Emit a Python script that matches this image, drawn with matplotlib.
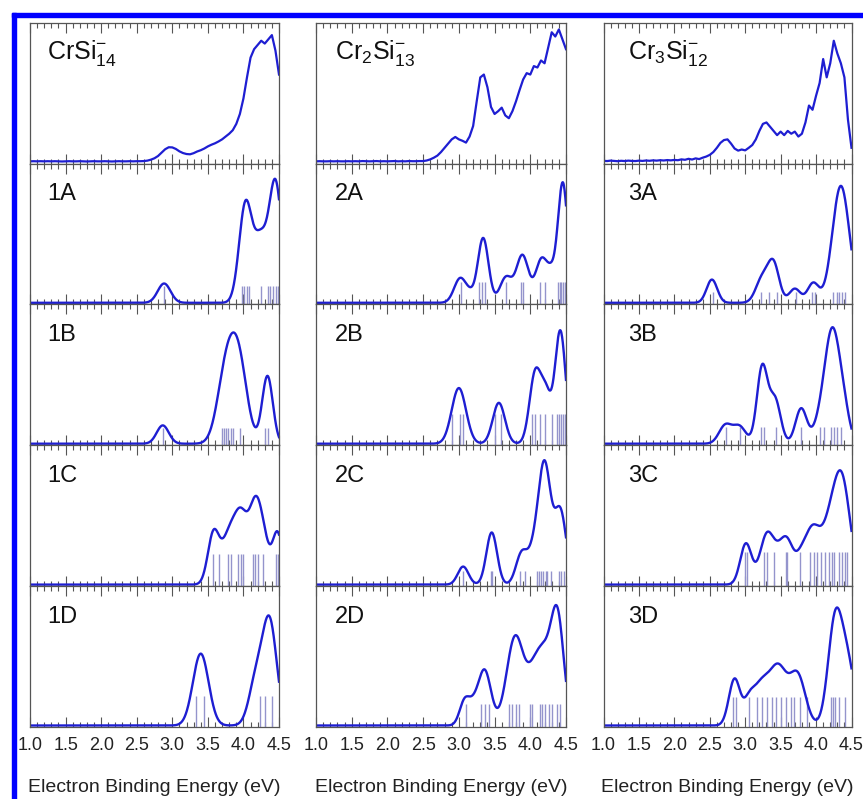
import numpy as np
import matplotlib
matplotlib.use("Agg")
import matplotlib.pyplot as plt
from matplotlib.patches import Rectangle
from matplotlib.ticker import MultipleLocator, FormatStrFormatter

plt.rcParams['font.family'] = ['Liberation Sans', 'DejaVu Sans']
plt.rcParams['mathtext.default'] = 'regular'

# ===== experimental spectra (top row), sampled every 0.05 eV from 1.0 to 4.5 =====
energy_exp = np.linspace(1.0, 4.5, 71)

exp_CrSi14 = [
    0.004, 0.005, 0.004, 0.005, 0.004, 0.005, 0.004, 0.005, 0.004, 0.003,
    0.004, 0.005, 0.004, 0.004, 0.005, 0.004, 0.003, 0.004, 0.005, 0.004,
    0.004, 0.005, 0.004, 0.003, 0.004, 0.005, 0.004, 0.004, 0.005, 0.004,
    0.005, 0.005, 0.006, 0.009, 0.016, 0.026, 0.042, 0.066, 0.090, 0.104,
    0.103, 0.092, 0.075, 0.063, 0.056, 0.054, 0.062, 0.074, 0.083, 0.095,
    0.110, 0.122, 0.132, 0.145, 0.160, 0.180, 0.200, 0.225, 0.270, 0.340,
    0.450, 0.600, 0.740, 0.800, 0.830, 0.860, 0.840, 0.870, 0.900, 0.790,
    0.620]

exp_Cr2Si13 = [
    0.004, 0.005, 0.004, 0.004, 0.005, 0.004, 0.005, 0.004, 0.004, 0.005,
    0.004, 0.005, 0.004, 0.006, 0.005, 0.004, 0.005, 0.006, 0.004, 0.005,
    0.004, 0.005, 0.006, 0.004, 0.005, 0.004, 0.006, 0.005, 0.005, 0.006,
    0.006, 0.010, 0.018, 0.030, 0.045, 0.070, 0.100, 0.130, 0.160, 0.177,
    0.160, 0.150, 0.137, 0.180, 0.255, 0.430, 0.600, 0.620, 0.530, 0.390,
    0.340, 0.360, 0.385, 0.330, 0.310, 0.360, 0.430, 0.510, 0.585, 0.630,
    0.620, 0.680, 0.670, 0.720, 0.700, 0.810, 0.920, 0.890, 0.940, 0.870,
    0.800]

exp_Cr3Si12 = [
    0.008, 0.006, 0.009, 0.007, 0.005, 0.008, 0.006, 0.009, 0.007, 0.006,
    0.009, 0.007, 0.010, 0.008, 0.011, 0.009, 0.012, 0.010, 0.013, 0.011,
    0.014, 0.012, 0.018, 0.015, 0.022, 0.017, 0.025, 0.020, 0.030, 0.038,
    0.050, 0.070, 0.100, 0.135, 0.155, 0.160, 0.130, 0.095, 0.080, 0.088,
    0.082, 0.100, 0.120, 0.160, 0.220, 0.270, 0.280, 0.250, 0.220, 0.190,
    0.215, 0.190, 0.220, 0.200, 0.215, 0.180, 0.200, 0.280, 0.400, 0.370,
    0.470, 0.560, 0.730, 0.600, 0.700, 0.860, 0.770, 0.700, 0.600, 0.300,
    0.100]

exp_labels = [r'$CrSi^{-}_{14}$', r'$Cr_2Si^{-}_{13}$', r'$Cr_3Si^{-}_{12}$']

# ===== simulated spectra: broadened peaks (center eV, height, width eV) + stick positions =====
peaks_1A = [(2.885, 0.137, 0.09), (4.03, 0.70, 0.09), (4.24, 0.42, 0.09), (4.45, 0.85, 0.09)]
sticks_1A = [2.88, 3.98, 4.01, 4.05, 4.08, 4.24, 4.35, 4.38, 4.42, 4.46, 4.49]

peaks_1B = [(2.866, 0.13, 0.085), (3.75, 0.47, 0.12), (3.93, 0.57, 0.12), (4.338, 0.48, 0.075)]
sticks_1B = [2.87, 3.70, 3.73, 3.76, 3.79, 3.82, 3.86, 3.95, 4.31, 4.35]

peaks_1C = [(3.58, 0.36, 0.08), (3.80, 0.34, 0.10), (3.97, 0.42, 0.09), (4.17, 0.54, 0.09),
            (4.30, 0.20, 0.08), (4.48, 0.36, 0.07)]
sticks_1C = [3.57, 3.65, 3.78, 3.82, 3.93, 3.96, 4.00, 4.13, 4.16, 4.20, 4.27, 4.46, 4.49]

peaks_1D = [(3.40, 0.51, 0.11), (4.18, 0.32, 0.10), (4.37, 0.72, 0.10)]
sticks_1D = [3.33, 3.45, 4.23, 4.31, 4.40]

peaks_2A = [(3.02, 0.175, 0.085), (3.16, 0.04, 0.06), (3.34, 0.46, 0.075), (3.66, 0.18, 0.085),
            (3.89, 0.335, 0.085), (4.16, 0.31, 0.085), (4.30, 0.14, 0.06), (4.455, 0.85, 0.07)]
sticks_2A = [3.03, 3.28, 3.33, 3.37, 3.66, 3.87, 3.90, 4.13, 4.20, 4.39, 4.41, 4.43, 4.46, 4.48]

peaks_2B = [(3.00, 0.395, 0.10), (3.56, 0.29, 0.085), (4.07, 0.50, 0.08), (4.22, 0.32, 0.07),
            (4.42, 0.80, 0.075)]
sticks_2B = [2.90, 3.01, 3.06, 3.51, 3.59, 4.02, 4.07, 4.13, 4.21, 4.31, 4.37, 4.40, 4.43, 4.46, 4.48]

peaks_2C = [(3.06, 0.128, 0.075), (3.46, 0.37, 0.075), (3.88, 0.22, 0.08), (4.05, 0.20, 0.08),
            (4.20, 0.83, 0.085), (4.42, 0.52, 0.085)]
sticks_2C = [3.06, 3.45, 3.47, 3.85, 3.92, 4.09, 4.12, 4.15, 4.18, 4.22, 4.24, 4.29, 4.40, 4.43, 4.47]

peaks_2D = [(3.08, 0.17, 0.07), (3.20, 0.10, 0.07), (3.36, 0.39, 0.09), (3.79, 0.63, 0.12),
            (4.05, 0.30, 0.10), (4.20, 0.40, 0.10), (4.38, 0.76, 0.09)]
sticks_2D = [3.10, 3.31, 3.36, 3.42, 3.70, 3.74, 3.80, 3.84, 4.00, 4.03, 4.13, 4.16, 4.21, 4.26,
             4.30, 4.37, 4.41]

peaks_3A = [(2.53, 0.165, 0.075), (3.24, 0.17, 0.09), (3.40, 0.27, 0.08), (3.70, 0.10, 0.08),
            (3.96, 0.14, 0.08), (4.35, 0.83, 0.12)]
sticks_3A = [2.54, 3.22, 3.33, 3.45, 3.71, 3.94, 3.98, 4.24, 4.29, 4.32, 4.37, 4.41]

peaks_3B = [(2.72, 0.13, 0.09), (2.92, 0.12, 0.09), (3.24, 0.54, 0.075), (3.42, 0.31, 0.08),
            (3.79, 0.25, 0.08), (4.04, 0.10, 0.09), (4.23, 0.80, 0.11), (4.40, 0.15, 0.08)]
sticks_3B = [2.725, 2.92, 3.22, 3.26, 3.43, 3.79, 4.05, 4.11, 4.21, 4.25, 4.29, 4.35]

peaks_3C = [(3.01, 0.29, 0.08), (3.31, 0.36, 0.10), (3.45, 0.04, 0.07), (3.58, 0.32, 0.10),
            (3.78, 0.08, 0.07), (3.95, 0.40, 0.12), (4.18, 0.25, 0.10), (4.36, 0.75, 0.12)]
sticks_3C = [2.99, 3.03, 3.27, 3.31, 3.40, 3.57, 3.59, 3.78, 3.91, 3.97, 4.02, 4.07, 4.13, 4.18,
             4.23, 4.26, 4.32, 4.37, 4.41, 4.44]

peaks_3D = [(2.85, 0.33, 0.08), (3.05, 0.12, 0.07), (3.22, 0.28, 0.12), (3.47, 0.39, 0.12),
            (3.74, 0.35, 0.11), (4.27, 0.74, 0.10), (4.45, 0.40, 0.10)]
sticks_3D = [2.83, 2.87, 3.05, 3.17, 3.24, 3.31, 3.38, 3.44, 3.50, 3.57, 3.64, 3.69, 3.78, 3.87,
             4.21, 4.24, 4.27, 4.32, 4.41]

sim_labels = [['1A', '1B', '1C', '1D'], ['2A', '2B', '2C', '2D'], ['3A', '3B', '3C', '3D']]
sim_peaks = [[peaks_1A, peaks_1B, peaks_1C, peaks_1D],
             [peaks_2A, peaks_2B, peaks_2C, peaks_2D],
             [peaks_3A, peaks_3B, peaks_3C, peaks_3D]]
sim_sticks = [[sticks_1A, sticks_1B, sticks_1C, sticks_1D],
              [sticks_2A, sticks_2B, sticks_2C, sticks_2D],
              [sticks_3A, sticks_3B, sticks_3C, sticks_3D]]
exp_data = [exp_CrSi14, exp_Cr2Si13, exp_Cr3Si12]


def broaden(peaks, e):
    # sum of gaussians
    y = np.zeros_like(e)
    for c, h, w in peaks:
        y += h * np.exp(-0.5 * ((e - c) / w) ** 2)
    return y


# ===== layout (pixels) =====
W, H = 863, 799
col_left = [30, 316, 603.5]
col_w = [249, 250, 248]
row_top0, row_h = 22.7, 140.9
lab_x = [0.07, 0.075, 0.10]
stick_top = [[0.12, 0.11, 0.22, 0.21], [0.15, 0.21, 0.10, 0.15], [0.08, 0.12, 0.23, 0.20]]

line_c = '#1e1ed2'
stick_c = '#9494cc'
frame_c = '#555555'
ylo, yhi = -0.012, 0.988

e_sim = np.linspace(1.0, 4.5, 701)

fig = plt.figure(figsize=(W / 100, H / 100), dpi=100)

for c in range(3):
    for r in range(5):
        top = row_top0 + r * row_h
        ax = fig.add_axes([col_left[c] / W, 1 - (top + row_h) / H, col_w[c] / W, row_h / H])
        ax.set_xlim(1.0, 4.5)
        ax.set_ylim(ylo, yhi)
        ax.set_yticks([])
        ax.xaxis.set_major_locator(MultipleLocator(0.5))
        ax.xaxis.set_minor_locator(MultipleLocator(0.1))
        ax.xaxis.set_major_formatter(FormatStrFormatter('%.1f'))
        ax.tick_params(axis='x', which='both', direction='in', top=True, bottom=True,
                       color=frame_c, width=0.8, labelbottom=(r == 4),
                       labelsize=13, pad=7, labelcolor='#222222')
        ax.tick_params(axis='x', which='major', length=7)
        ax.tick_params(axis='x', which='minor', length=3.5)
        for sp in ax.spines.values():
            sp.set_color(frame_c)
            sp.set_linewidth(0.9)

        if r == 0:
            ax.plot(energy_exp, exp_data[c], color=line_c, lw=1.6)
            ax.text(lab_x[c], 0.74, exp_labels[c], transform=ax.transAxes,
                    fontsize=18, va='baseline', ha='left', color='#111111')
        else:
            ax.vlines(sim_sticks[c][r - 1], ylo, stick_top[c][r - 1], color=stick_c, lw=1.0)
            ax.plot(e_sim, broaden(sim_peaks[c][r - 1], e_sim), color=line_c, lw=1.7)
            ax.text(lab_x[c], 0.74, sim_labels[c][r - 1], transform=ax.transAxes,
                    fontsize=17, va='baseline', ha='left', color='#111111')

    fig.text((col_left[c] + col_w[c] / 2) / W, 1 - 791.5 / H, 'Electron Binding Energy (eV)',
             ha='center', va='baseline', fontsize=14, color='#222222')

# blue frame on the top and left
fig.patches.append(Rectangle((11.5 / W, 0), 4.5 / W, 1 - 12.5 / H,
                             transform=fig.transFigure, color='#0000ff', zorder=10))
fig.patches.append(Rectangle((11.5 / W, 1 - 16.7 / H), 1 - 11.5 / W, 4.2 / H,
                             transform=fig.transFigure, color='#0000ff', zorder=10))

fig.savefig('out.png', dpi=100)
